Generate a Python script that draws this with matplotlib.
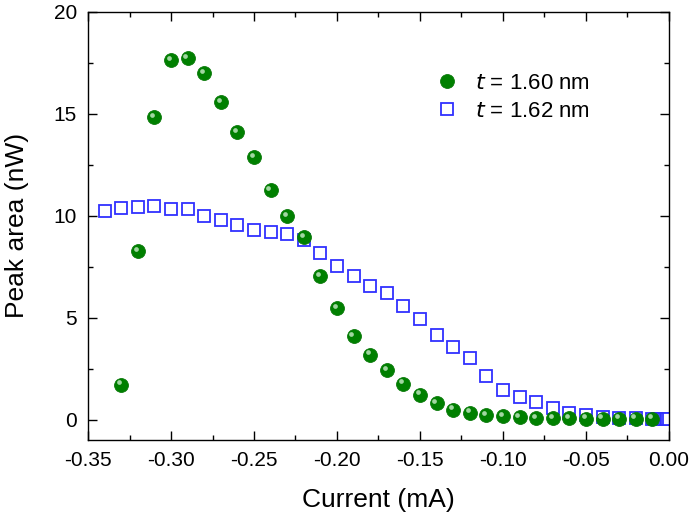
import matplotlib
matplotlib.use('Agg')
import matplotlib.pyplot as plt
import matplotlib.transforms as mtransforms
from matplotlib.ticker import MultipleLocator

plt.rcParams['font.family'] = ['Liberation Sans', 'DejaVu Sans']

# t = 1.60 nm (green spheres)
cur_160 = [-0.33, -0.32, -0.31, -0.30, -0.29, -0.28, -0.27, -0.26, -0.25, -0.24,
           -0.23, -0.22, -0.21, -0.20, -0.19, -0.18, -0.17, -0.16, -0.15, -0.14,
           -0.13, -0.12, -0.11, -0.10, -0.09, -0.08, -0.07, -0.06, -0.05, -0.04,
           -0.03, -0.02, -0.01]
area_160 = [1.72, 8.25, 14.84, 17.64, 17.74, 17.0, 15.58, 14.1, 12.87, 11.25,
            9.98, 8.94, 7.03, 5.45, 4.08, 3.19, 2.41, 1.77, 1.23, 0.79,
            0.49, 0.34, 0.23, 0.18, 0.13, 0.09, 0.07, 0.06, 0.05, 0.05,
            0.05, 0.05, 0.05]

# t = 1.62 nm (blue open squares)
cur_162 = [-0.34, -0.33, -0.32, -0.31, -0.30, -0.29, -0.28, -0.27, -0.26, -0.25,
           -0.24, -0.23, -0.22, -0.21, -0.20, -0.19, -0.18, -0.17, -0.16, -0.15,
           -0.14, -0.13, -0.12, -0.11, -0.10, -0.09, -0.08, -0.07, -0.06, -0.05,
           -0.04, -0.03, -0.02, -0.01, -0.008, -0.006, -0.005, -0.004, -0.003,
           -0.002, -0.001, 0.0]
area_162 = [10.22, 10.37, 10.42, 10.48, 10.32, 10.32, 9.99, 9.81, 9.55, 9.32,
            9.2, 9.1, 8.8, 8.19, 7.53, 7.06, 6.54, 6.23, 5.55, 4.95,
            4.16, 3.55, 3.03, 2.15, 1.43, 1.1, 0.88, 0.57, 0.34, 0.23,
            0.15, 0.1, 0.07, 0.05, 0.05, 0.04, 0.04, 0.03, 0.03,
            0.03, 0.02, 0.02]

fig = plt.figure(figsize=(6.91, 5.17), dpi=100)
ax = fig.add_axes([0.1274, 0.149, 0.8406, 0.828])

# open squares
ax.plot(cur_162, area_162, linestyle='none', marker='s', markersize=8.4,
        markerfacecolor='white', markeredgecolor='#3030ff', markeredgewidth=1.3,
        zorder=2)

# green spheres with a small highlight
ax.plot(cur_160, area_160, linestyle='none', marker='o', markersize=10,
        markerfacecolor='#008000', markeredgecolor='#0a7a0a', markeredgewidth=0.6,
        zorder=3)
hl = mtransforms.offset_copy(ax.transData, fig=fig, x=-2.2, y=2.2, units='dots')
ax.plot(cur_160, area_160, linestyle='none', marker='o', markersize=3.4,
        markerfacecolor='#bfe6bf', markeredgecolor='none', alpha=0.85,
        transform=hl, zorder=4)

# legend proxies
h1, = ax.plot([], [], linestyle='none', marker='o', markersize=10,
              markerfacecolor='#008000', markeredgecolor='#0a7a0a',
              markeredgewidth=0.6)
h2, = ax.plot([], [], linestyle='none', marker='s', markersize=8.4,
              markerfacecolor='white', markeredgecolor='#3030ff',
              markeredgewidth=1.3)
ax.legend([h1, h2], ['$t$ = 1.60 nm', '$t$ = 1.62 nm'], loc='upper left',
          bbox_to_anchor=(0.565, 0.904), frameon=False, fontsize=16,
          handletextpad=0.75, labelspacing=0.3, handlelength=1.0)

ax.set_xlim(-0.35, 0.0)
ax.set_ylim(-1, 20)
ax.xaxis.set_major_locator(MultipleLocator(0.05))
ax.xaxis.set_minor_locator(MultipleLocator(0.025))
ax.yaxis.set_major_locator(MultipleLocator(5))
ax.yaxis.set_minor_locator(MultipleLocator(2.5))
ax.xaxis.set_major_formatter(plt.FuncFormatter(lambda v, p: f'{v:.2f}'))
ax.yaxis.set_major_formatter(plt.FuncFormatter(lambda v, p: f'{v:.0f}'))

ax.tick_params(which='both', direction='in', top=True, right=True,
               labelsize=15, width=1.0, pad=8)
ax.tick_params(which='major', length=6.5)
ax.tick_params(which='minor', length=3.6)
for s in ax.spines.values():
    s.set_linewidth(1.0)

ax.set_xlabel('Current (mA)', fontsize=19, labelpad=13)
ax.set_ylabel('Peak area (nW)', fontsize=19, labelpad=18)

fig.savefig('out.png', dpi=100)
